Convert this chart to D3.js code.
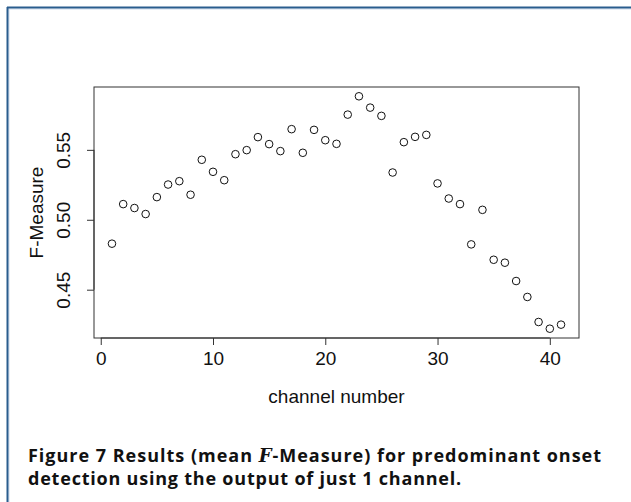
<!DOCTYPE html>
<html>
<head>
<meta charset="utf-8">
<script src="https://cdn.jsdelivr.net/npm/d3@7"></script>
<style>
  body { margin: 0; background: #fff; }
  svg { display: block; }
  .axis text { font-family: "Liberation Sans", Arial, sans-serif; font-size: 19px; fill: #111; }
</style>
</head>
<body>
<div id="chart"></div>
<script>
// channel numbers and mean F-measure
const channels = d3.range(1, 42)
const fmeasure = [
    0.4829, 0.5112, 0.5084, 0.5041, 0.5162, 0.5252, 0.5276, 0.5179, 0.5429, 0.5343,
    0.5283, 0.5469, 0.5498, 0.5591, 0.5541, 0.5491, 0.5648, 0.5479, 0.5643, 0.5569,
    0.5543, 0.5752, 0.5883, 0.5802, 0.5743, 0.5338, 0.5555, 0.5593, 0.5607, 0.5260,
    0.5152, 0.5112, 0.4824, 0.5071, 0.4714, 0.4693, 0.4562, 0.4448, 0.4269, 0.4221,
    0.4250
]
const xTicks = [0, 10, 20, 30, 40]
const yTicks = [0.45, 0.50, 0.55]
const captionLines = [
    ['Figure 7  Results (mean ', 'F', '-Measure) for predominant onset'],
    ['detection using the output of just 1 channel.']
]

const W = 631, H = 502
const box = { left: 94, right: 579, top: 87, bottom: 338 }

const svg = d3.select('#chart').append('svg')
    .attr('width', W)
    .attr('height', H)

// page frame (blue rule at top and left)
svg.append('line').attr('x1', 8).attr('x2', W).attr('y1', 9).attr('y2', 9)
    .attr('stroke', '#cfdcec').attr('stroke-width', 1)
svg.append('line').attr('x1', 9).attr('x2', 9).attr('y1', 9).attr('y2', H)
    .attr('stroke', '#cfdcec').attr('stroke-width', 1)
svg.append('line').attr('x1', 7).attr('x2', W).attr('y1', 7.5).attr('y2', 7.5)
    .attr('stroke', '#2a5d8e').attr('stroke-width', 2)
svg.append('line').attr('x1', 7.5).attr('x2', 7.5).attr('y1', 7).attr('y2', H)
    .attr('stroke', '#2a5d8e').attr('stroke-width', 2)

// R-style 4% padding on both axes
const xExt = d3.extent(channels), yExt = d3.extent(fmeasure)
const xPad = (xExt[1] - xExt[0]) * 0.04, yPad = (yExt[1] - yExt[0]) * 0.04

const x = d3.scaleLinear()
    .domain([xExt[0] - xPad, xExt[1] + xPad])
    .range([box.left, box.right])
const y = d3.scaleLinear()
    .domain([yExt[0] - yPad, yExt[1] + yPad])
    .range([box.bottom, box.top])

const xAxis = d3.axisBottom(x).tickValues(xTicks).tickFormat(d3.format('d'))
    .tickSizeInner(7).tickSizeOuter(0).tickPadding(7)
const yAxis = d3.axisLeft(y).tickValues(yTicks).tickFormat(d3.format('.2f'))
    .tickSizeInner(7).tickSizeOuter(0).tickPadding(6)

const gx = svg.append('g')
    .attr('class', 'axis')
    .attr('transform', `translate(0, ${box.bottom})`)
    .call(xAxis)
gx.select('.domain')
    .attr('d', `M${x(xTicks[0])},0H${x(xTicks[xTicks.length - 1])}`)
gx.selectAll('.tick line').attr('stroke', '#333')
gx.selectAll('.domain').attr('stroke', '#333')
gx.selectAll('.tick text').attr('dy', '0.71em')

const gy = svg.append('g')
    .attr('class', 'axis')
    .attr('transform', `translate(${box.left}, 0)`)
    .call(yAxis)
gy.select('.domain')
    .attr('d', `M0,${y(yTicks[0])}V${y(yTicks[yTicks.length - 1])}`)
gy.selectAll('.tick line').attr('stroke', '#333')
gy.selectAll('.domain').attr('stroke', '#333')
gy.selectAll('.tick text')
    .attr('x', null).attr('dy', null)
    .attr('text-anchor', 'middle')
    .attr('transform', 'translate(-24, 0) rotate(-90)')

// plot frame
svg.append('rect')
    .attr('x', box.left).attr('y', box.top)
    .attr('width', box.right - box.left).attr('height', box.bottom - box.top)
    .attr('fill', 'none').attr('stroke', '#333').attr('stroke-width', 1)

// points
svg.append('g')
    .selectAll('circle')
    .data(channels)
    .join('circle')
    .attr('cx', d => x(d))
    .attr('cy', (d, i) => y(fmeasure[i]))
    .attr('r', 3.8)
    .attr('fill', 'none')
    .attr('stroke', '#111')
    .attr('stroke-width', 1)

// axis titles
svg.append('text')
    .attr('x', (box.left + box.right) / 2)
    .attr('y', 398)
    .attr('text-anchor', 'middle')
    .attr('dominant-baseline', 'middle')
    .style('font-family', '"Liberation Sans", Arial, sans-serif')
    .style('font-size', '19px')
    .attr('fill', '#111')
    .text('channel number')

svg.append('text')
    .attr('transform', `translate(38, ${(box.top + box.bottom) / 2}) rotate(-90)`)
    .attr('text-anchor', 'middle')
    .attr('dominant-baseline', 'middle')
    .style('font-family', '"Liberation Sans", Arial, sans-serif')
    .style('font-size', '19px')
    .attr('fill', '#111')
    .text('F-Measure')

// caption
const caption = svg.append('g')
    .style('font-family', '"Open Sans", Lato, sans-serif')
    .style('font-weight', 'bold')
    .style('font-size', '18px')
    .style('white-space', 'pre')
    .attr('fill', '#111')

const lineY = [462, 485]
const lineW = [575, 434]
captionLines.forEach((parts, li) => {
    const t = caption.append('text')
        .attr('x', 28)
        .attr('y', lineY[li])
    parts.forEach((p, pi) => {
        const s = t.append('tspan').text(p)
        if (parts.length === 3 && pi === 1) {
            s.style('font-family', '"DejaVu Serif", serif')
                .style('font-style', 'italic')
        }
    })
    // nudge letter spacing so the line spans the same width as the caption
    const w = t.node().getComputedTextLength()
    const n = parts.join('').length
    t.style('letter-spacing', ((lineW[li] - w) / n) + 'px')
})
</script>
</body>
</html>
